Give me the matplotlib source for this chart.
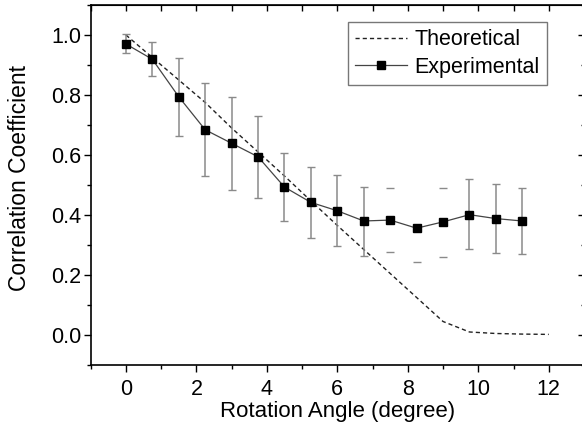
import numpy as np
import matplotlib
matplotlib.use('Agg')
import matplotlib.pyplot as plt
from matplotlib.ticker import MultipleLocator

plt.rcParams['font.family'] = ['Liberation Sans', 'DejaVu Sans']

# theoretical curve
theo_x = [0, 0.75, 1.5, 2.25, 3.0, 3.75, 4.5, 5.25, 6.0, 6.75, 7.5, 8.25,
          9.0, 9.75, 10.5, 11.25, 12.0]
theo_y = [1.0, 0.925, 0.85, 0.775, 0.69, 0.61, 0.53, 0.447, 0.365, 0.285,
          0.205, 0.125, 0.045, 0.01, 0.005, 0.003, 0.002]

# experimental points with error bars
exp_x = [0, 0.75, 1.5, 2.25, 3.0, 3.75, 4.5, 5.25, 6.0, 6.75, 7.5, 8.25,
         9.0, 9.75, 10.5, 11.25]
exp_y = [0.97, 0.919, 0.794, 0.684, 0.639, 0.594, 0.493, 0.442, 0.414,
         0.38, 0.383, 0.356, 0.377, 0.401, 0.388, 0.38]
err_hi = [1.002, 0.976, 0.924, 0.84, 0.794, 0.73, 0.606, 0.56, 0.534,
          0.494, 0.491, 0.356, 0.491, 0.519, 0.504, 0.489]
err_lo = [0.939, 0.862, 0.664, 0.531, 0.482, 0.458, 0.381, 0.322, 0.296,
          0.264, 0.278, 0.244, 0.261, 0.286, 0.272, 0.269]
# points whose vertical bar is not drawn (only caps show)
caps_only = [7.5, 8.25, 9.0]

fig = plt.figure(figsize=(5.82, 4.29), dpi=100)
ax = fig.add_axes([0.1558, 0.1492, 0.8476, 0.8392])

ax.plot(theo_x, theo_y, ls=(0, (3, 2.2)), color='#222222', lw=1.0,
        label='Theoretical')

ex = np.array(exp_x)
ey = np.array(exp_y)
lo = ey - np.array(err_lo)
hi = np.array(err_hi) - ey
full = ~np.isin(ex, caps_only)

ax.errorbar(ex[full], ey[full], yerr=[lo[full], hi[full]], fmt='none',
            ecolor='#8a8a8a', elinewidth=1.1, capsize=2.7, capthick=1.0)
ax.errorbar(ex[~full], ey[~full], yerr=[lo[~full], hi[~full]], fmt='none',
            ecolor='#8a8a8a', elinewidth=0, capsize=2.7, capthick=1.0)
ax.plot(ex, ey, '-', color='#444444', lw=0.9, marker='s', ms=5.2,
        mfc='black', mec='black', label='Experimental')

ax.set_xlim(-1, 13)
ax.set_ylim(-0.1, 1.1)
ax.xaxis.set_major_locator(MultipleLocator(2))
ax.xaxis.set_minor_locator(MultipleLocator(1))
ax.yaxis.set_major_locator(MultipleLocator(0.2))
ax.yaxis.set_minor_locator(MultipleLocator(0.1))
ax.tick_params(which='major', direction='out', length=5, width=1,
               labelsize=15.5)
ax.tick_params(which='minor', direction='out', length=3, width=1)
ax.tick_params(axis='x', pad=5)
ax.tick_params(axis='y', pad=2)
for s in ax.spines.values():
    s.set_linewidth(1.2)

top = ax.secondary_xaxis('top')
top.xaxis.set_major_locator(MultipleLocator(1))
top.tick_params(direction='in', length=4, width=1, labeltop=False)
right = ax.secondary_yaxis('right')
right.yaxis.set_major_locator(MultipleLocator(0.2))
right.yaxis.set_minor_locator(MultipleLocator(0.1))
right.tick_params(which='major', direction='in', length=4, width=1,
                  labelright=False)
right.tick_params(which='minor', direction='in', length=2, width=1)

ax.set_xlabel('Rotation Angle (degree)', fontsize=16, labelpad=1)
ax.set_ylabel('Correlation Coefficient', fontsize=16.5)
ax.yaxis.set_label_coords(-0.12, 0.52)

leg = ax.legend(loc='upper right', bbox_to_anchor=(0.925, 0.953),
                borderaxespad=0, fontsize=15.5, frameon=True, fancybox=False,
                handlelength=2.4, handletextpad=0.34, borderpad=0.35,
                labelspacing=0.3, numpoints=1)
leg.get_frame().set_edgecolor('#555555')
leg.get_frame().set_linewidth(1.0)

fig.savefig('out.png', dpi=100)
